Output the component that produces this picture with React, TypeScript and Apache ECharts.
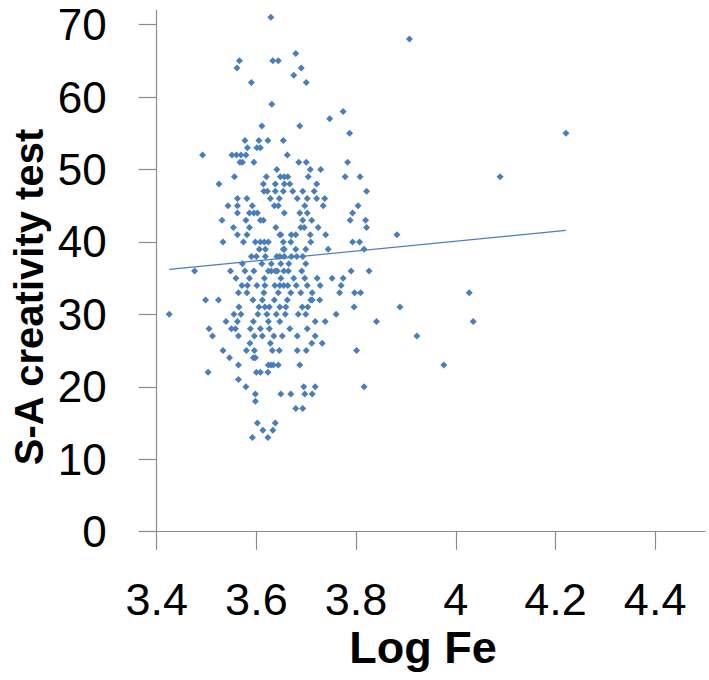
import React, { useEffect, useRef } from "react";
import * as echarts from "echarts";

// Log Fe (x) and S-A creativity test score (y), one entry per point
const logFe: number[] = [
  3.629,
  3.907,
  3.679,
  3.566, 3.633, 3.644,
  3.561, 3.69,
  3.675,
  3.59, 3.7,
  3.631,
  3.774,
  3.747,
  3.611, 3.687,
  3.787, 4.221,
  3.577, 3.605, 3.623, 3.654,
  3.582, 3.601, 3.608,
  3.492, 3.551, 3.56, 3.569, 3.579, 3.662,
  3.567, 3.572, 3.595, 3.685, 3.7, 3.783,
  3.641, 3.708, 3.729,
  3.556, 3.62, 3.648, 3.656, 3.663, 3.704, 3.778, 3.808, 4.089,
  3.525, 3.614, 3.638, 3.656, 3.667, 3.721,
  3.615, 3.622, 3.638, 3.654, 3.673, 3.693, 3.716, 3.821,
  3.562, 3.581, 3.628, 3.646, 3.682, 3.702, 3.721, 3.737,
  3.543, 3.562, 3.592, 3.636, 3.644, 3.697, 3.734, 3.804,
  3.562, 3.586, 3.595, 3.602, 3.656, 3.687, 3.702, 3.793,
  3.531, 3.579, 3.608, 3.614, 3.693, 3.711, 3.788, 3.819,
  3.554, 3.586, 3.639, 3.689, 3.696, 3.724, 3.821,
  3.562, 3.581, 3.647, 3.649, 3.67, 3.679, 3.708, 3.739, 3.882,
  3.533, 3.574, 3.598, 3.608, 3.616, 3.624, 3.654, 3.669, 3.709, 3.793, 3.807,
  3.606, 3.618, 3.654, 3.656, 3.679, 3.699, 3.744, 3.816,
  3.59, 3.6, 3.618, 3.641, 3.647, 3.656, 3.67, 3.681, 3.693,
  3.572, 3.611, 3.63, 3.649, 3.665, 3.699,
  3.476, 3.548, 3.577, 3.595, 3.624, 3.63, 3.638, 3.642, 3.655, 3.664, 3.691, 3.79, 3.826,
  3.559, 3.586, 3.616, 3.649, 3.675, 3.697, 3.722, 3.752, 3.774,
  3.571, 3.582, 3.601, 3.617, 3.637, 3.647, 3.655, 3.663, 3.68, 3.702, 3.728, 3.77,
  3.564, 3.581, 3.615, 3.644, 3.669, 3.689, 3.712, 3.767, 3.797, 3.809, 4.027,
  3.498, 3.524, 3.593, 3.612, 3.636, 3.662, 3.709, 3.712, 3.727,
  3.565, 3.605, 3.617, 3.626, 3.647, 3.659, 3.692, 3.703, 3.796, 3.888,
  3.425, 3.555, 3.569, 3.603, 3.621, 3.64, 3.658, 3.684, 3.699, 3.76,
  3.539, 3.562, 3.594, 3.624, 3.647, 3.718, 3.738, 3.841, 4.035,
  3.505, 3.55, 3.558, 3.588, 3.608, 3.626, 3.667, 3.702,
  3.512, 3.564, 3.596, 3.612, 3.635, 3.652, 3.682, 3.718, 3.922,
  3.587, 3.628, 3.711, 3.732,
  3.533, 3.58, 3.596, 3.632, 3.646, 3.682, 3.7, 3.801,
  3.546, 3.594, 3.598,
  3.564, 3.624, 3.629, 3.634, 3.644, 3.687, 3.976,
  3.503, 3.6, 3.608, 3.623,
  3.564,
  3.579, 3.695, 3.718, 3.816,
  3.598, 3.649, 3.669, 3.697, 3.712,
  3.598,
  3.679, 3.693,
  3.602, 3.638,
  3.613, 3.633,
  3.592, 3.623,
];

const creativity: number[] = [
  71,
  68,
  66,
  65, 65, 65,
  64, 64,
  63,
  62, 62,
  59,
  58,
  57,
  56, 56,
  55, 55,
  54, 54, 54, 54,
  53, 53, 53,
  52, 52, 52, 52, 52, 52,
  51, 51, 51, 51, 51, 51,
  50, 50, 50,
  49, 49, 49, 49, 49, 49, 49, 49, 49,
  48, 48, 48, 48, 48, 48,
  47, 47, 47, 47, 47, 47, 47, 47,
  46, 46, 46, 46, 46, 46, 46, 46,
  45, 45, 45, 45, 45, 45, 45, 45,
  44, 44, 44, 44, 44, 44, 44, 44,
  43, 43, 43, 43, 43, 43, 43, 43,
  42, 42, 42, 42, 42, 42, 42,
  41, 41, 41, 41, 41, 41, 41, 41, 41,
  40, 40, 40, 40, 40, 40, 40, 40, 40, 40, 40,
  39, 39, 39, 39, 39, 39, 39, 39,
  38, 38, 38, 38, 38, 38, 38, 38, 38,
  37, 37, 37, 37, 37, 37,
  36, 36, 36, 36, 36, 36, 36, 36, 36, 36, 36, 36, 36,
  35, 35, 35, 35, 35, 35, 35, 35, 35,
  34, 34, 34, 34, 34, 34, 34, 34, 34, 34, 34, 34,
  33, 33, 33, 33, 33, 33, 33, 33, 33, 33, 33,
  32, 32, 32, 32, 32, 32, 32, 32, 32,
  31, 31, 31, 31, 31, 31, 31, 31, 31, 31,
  30, 30, 30, 30, 30, 30, 30, 30, 30, 30,
  29, 29, 29, 29, 29, 29, 29, 29, 29,
  28, 28, 28, 28, 28, 28, 28, 28,
  27, 27, 27, 27, 27, 27, 27, 27, 27,
  26, 26, 26, 26,
  25, 25, 25, 25, 25, 25, 25, 25,
  24, 24, 24,
  23, 23, 23, 23, 23, 23, 23,
  22, 22, 22, 22,
  21,
  20, 20, 20, 20,
  19, 19, 19, 19, 19,
  18,
  17, 17,
  15, 15,
  14, 14,
  13, 13,
];

// Linear trend line end points (Log Fe, score)
const trendX: number[] = [3.425, 4.221];
const trendY: number[] = [36.2, 41.6];

const xTicks: number[] = [3.4, 3.6, 3.8, 4, 4.2, 4.4];
const yTicks: number[] = [0, 10, 20, 30, 40, 50, 60, 70];

const FONT = "'Liberation Sans', Arial, sans-serif";
const BLUE = "#4A7EBB";
const AXIS = "#8C8C8C";

export default function App() {
  const ref = useRef<HTMLDivElement>(null);

  useEffect(() => {
    document.body.style.margin = "0";
    if (!ref.current) return;
    const chart = echarts.init(ref.current, undefined, { renderer: "svg" });
    const points = logFe.map((x, i) => [x, creativity[i]]);
    const trend = trendX.map((x, i) => [x, trendY[i]]);
    chart.setOption({
      animation: false,
      backgroundColor: "#ffffff",
      grid: { left: 156.7, right: 4, top: 10.1, bottom: 148.3, containLabel: false },
      xAxis: {
        type: "value",
        min: 3.4,
        max: 4.5,
        interval: 0.2,
        axisLine: { show: true, onZero: false, lineStyle: { color: AXIS, width: 1.2 } },
        axisTick: { show: true, inside: false, length: 18, customValues: xTicks, lineStyle: { color: AXIS, width: 1.2 } },
        axisLabel: {
          customValues: xTicks,
          margin: 46,
          fontSize: 45,
          lineHeight: 44,
          fontFamily: FONT,
          color: "#000000",
        },
        splitLine: { show: false },
      },
      yAxis: {
        type: "value",
        min: 0,
        max: 72,
        interval: 10,
        axisLine: { show: true, onZero: false, lineStyle: { color: AXIS, width: 1.2 } },
        axisTick: { show: true, inside: false, length: 18, customValues: yTicks, lineStyle: { color: AXIS, width: 1.2 } },
        axisLabel: {
          customValues: yTicks,
          margin: 50,
          fontSize: 44,
          lineHeight: 40,
          fontFamily: FONT,
          color: "#000000",
        },
        splitLine: { show: false },
      },
      graphic: [
        {
          type: "text",
          x: 28.5,
          y: 297,
          rotation: Math.PI / 2,
          style: {
            text: "S-A creativity test",
            font: `bold 40px ${FONT}`,
            fill: "#000000",
            textAlign: "center",
            textVerticalAlign: "middle",
          },
        },
        {
          type: "text",
          x: 423,
          y: 647.5,
          style: {
            text: "Log Fe",
            font: `bold 45px ${FONT}`,
            fill: "#000000",
            textAlign: "center",
            textVerticalAlign: "middle",
          },
        },
      ],
      series: [
        {
          type: "scatter",
          data: points,
          symbol: "diamond",
          symbolSize: 7,
          itemStyle: { color: BLUE, opacity: 1 },
        },
        {
          type: "line",
          data: trend,
          symbol: "none",
          lineStyle: { color: BLUE, width: 1.2 },
        },
      ],
    });
    return () => chart.dispose();
  }, []);

  return <div ref={ref} style={{ width: 709, height: 680 }} />;
}
